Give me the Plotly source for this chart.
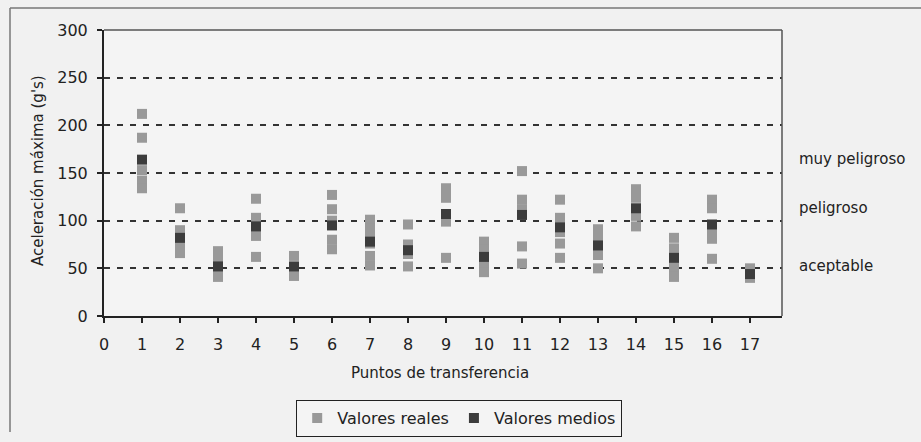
import plotly.graph_objects as go

# ---- data ----
puntos = list(range(1, 18))
valores_medios = [164, 82, 52, 94, 52, 95, 78, 69, 107, 62, 106, 93, 74, 113, 61, 96, 44]

reales_x = (
    [1] * 5 + [2] * 5 + [3] * 4 + [4] * 4 + [5] * 3 + [6] * 5 + [7] * 6 + [8] * 4 +
    [9] * 5 + [10] * 4 + [11] * 5 + [12] * 5 + [13] * 4 + [14] * 4 + [15] * 4 +
    [16] * 5 + [17] * 2
)
reales_y = (
    [212, 187, 153, 142, 134] +
    [113, 90, 80, 72, 66] +
    [68, 60, 46, 41] +
    [123, 103, 84, 62] +
    [63, 46, 42] +
    [127, 112, 100, 80, 70] +
    [101, 92, 84, 76, 63, 53] +
    [96, 75, 65, 52] +
    [134, 124, 104, 99, 61] +
    [78, 70, 55, 46] +
    [152, 122, 112, 73, 55] +
    [122, 103, 88, 76, 61] +
    [91, 82, 64, 50] +
    [133, 124, 105, 94] +
    [82, 71, 51, 41] +
    [122, 113, 88, 81, 60] +
    [50, 40]
)

y_ticks = [0, 50, 100, 150, 200, 250, 300]
x_ticks = list(range(0, 18))
zonas = ["muy peligroso", "peligroso", "aceptable"]
zonas_y = [165, 113, 52]

# ---- layout geometry (pixels) ----
W, H = 921, 442
L, R, T, B = 104, 139, 30, 126
pw, ph = W - L - R, H - T - B

def px2x(px):
    return (px - L) / pw

def px2y(py):
    return (H - B - py) / ph

FONT = "DejaVu Sans"
TXT = "#222222"
LIGHT = "#999999"
DARK = "#3c3c3c"

fig = go.Figure()
fig.add_trace(go.Scatter(
    x=reales_x, y=reales_y, mode="markers", name="Valores reales",
    marker=dict(symbol="square", size=10, color=LIGHT, line=dict(width=0)),
))
fig.add_trace(go.Scatter(
    x=puntos, y=valores_medios, mode="markers", name="Valores medios",
    marker=dict(symbol="square", size=10, color=DARK, line=dict(width=0)),
))

annotations = []
for txt, yv in zip(zonas, zonas_y):
    annotations.append(dict(
        x=px2x(797), xref="paper", y=yv, yref="y", text=txt, showarrow=False,
        xanchor="left", yanchor="middle", font=dict(family=FONT, size=15, color=TXT),
    ))
annotations.append(dict(
    x=px2x(440), xref="paper", y=px2y(373), yref="paper", text="Puntos de transferencia",
    showarrow=False, xanchor="center", yanchor="middle",
    font=dict(family=FONT, size=15, color=TXT),
))
annotations.append(dict(
    x=px2x(38), xref="paper", y=px2y(171), yref="paper", text="Aceleración máxima (g's)",
    showarrow=False, xanchor="center", yanchor="middle", textangle=-90,
    font=dict(family=FONT, size=15, color=TXT),
))

shapes = [
    # chart-area frame (top and left edges visible in the scan)
    dict(type="line", xref="paper", yref="paper", x0=px2x(10), x1=px2x(921),
         y0=px2y(8), y1=px2y(8), line=dict(color="#777777", width=1.5)),
    dict(type="line", xref="paper", yref="paper", x0=px2x(10), x1=px2x(10),
         y0=px2y(8), y1=px2y(432), line=dict(color="#777777", width=1.5)),
    # plot-area frame top and right
    dict(type="line", xref="paper", yref="paper", x0=0, x1=1, y0=1, y1=1,
         line=dict(color="#555555", width=1.5)),
    dict(type="line", xref="paper", yref="paper", x0=1, x1=1, y0=0, y1=1,
         line=dict(color="#555555", width=1.5)),
]

fig.update_layout(
    width=W, height=H,
    margin=dict(l=L, r=R, t=T, b=B, autoexpand=False),
    paper_bgcolor="#f1f1f1", plot_bgcolor="#f4f4f4",
    font=dict(family=FONT, size=16, color=TXT),
    showlegend=True,
    legend=dict(
        orientation="h", x=px2x(459), xanchor="center", y=px2y(400), yanchor="top",
        bgcolor="#f4f4f4", bordercolor="#222222", borderwidth=1.2,
        font=dict(family=FONT, size=16, color=TXT), itemsizing="trace",
        tracegroupgap=0,
    ),
    annotations=annotations,
    shapes=shapes,
)

fig.update_xaxes(
    range=[0, (W - R - L) / 38.0], tickvals=x_ticks, ticktext=[str(v) for v in x_ticks],
    showgrid=False, zeroline=False, showline=True, linecolor="#222222", linewidth=2,
    ticks="outside", ticklen=5, tickwidth=1.5, tickcolor="#222222",
    ticklabelstandoff=8, tickfont=dict(family=FONT, size=16, color=TXT),
)
fig.update_yaxes(
    range=[0, 300], tickvals=y_ticks, ticktext=[str(v) for v in y_ticks],
    showgrid=True, gridcolor="#333333", gridwidth=2, griddash="6px,7px",
    zeroline=False, showline=True, linecolor="#222222", linewidth=2,
    ticks="outside", ticklen=5, tickwidth=1.5, tickcolor="#222222",
    ticklabelstandoff=6, tickfont=dict(family=FONT, size=16, color=TXT),
)

fig.write_html(
    "out.html",
    config={"displayModeBar": False},
    post_script="document.body.style.margin='0';document.body.style.overflow='hidden';",
)
